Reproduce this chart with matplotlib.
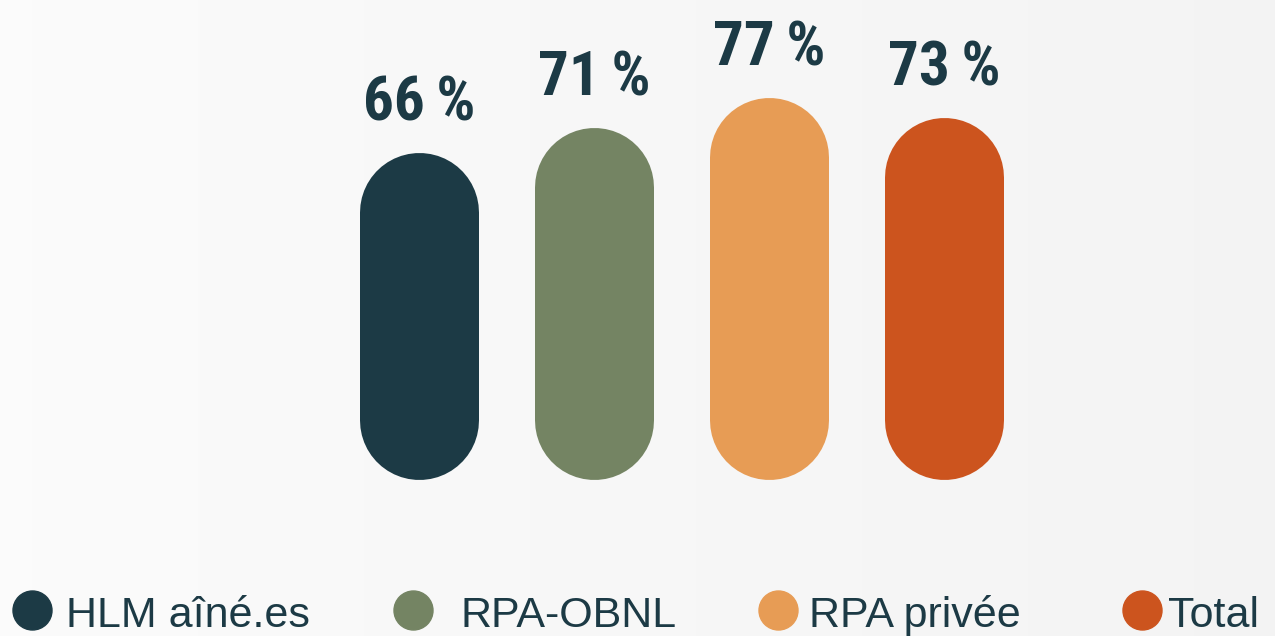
import matplotlib
matplotlib.use("Agg")
import matplotlib.pyplot as plt
import numpy as np
from matplotlib import font_manager as fm

categories = ["HLM aîné.es", "RPA-OBNL", "RPA privée", "Total"]
values = [66, 71, 77, 73]
labels = ["66\u2009%", "71\u2009%", "77\u2009%", "73\u2009%"]
colors = ["#1c3a45", "#748463", "#e79c55", "#cc541e"]
text_color = "#1c3a45"


def find_condensed_bold():
    best, best_score = None, -1
    for f in fm.fontManager.ttflist:
        nm = f.name.lower()
        fn = f.fname.lower()
        narrowish = ("narrow" in nm or "condensed" in nm or "narrow" in fn
                     or "condensed" in fn or str(f.stretch) in ("condensed", "semi-condensed", "extra-condensed"))
        if not narrowish:
            continue
        w = f.weight
        try:
            w = int(w)
        except Exception:
            w = 700 if "bold" in str(w).lower() else 400
        score = 0
        if w >= 600:
            score += 10
        if "liberation" in nm or "arial" in nm:
            score += 5
        if "roboto" in nm:
            score += 4
        if "italic" in fn or "oblique" in fn or f.style != "normal":
            score -= 20
        if "extra" in fn or "ultra" in fn or "semi" in fn:
            score -= 2
        if score > best_score:
            best, best_score = f, score
    return best


cf = find_condensed_bold()
if cf is not None:
    label_font = fm.FontProperties(fname=cf.fname, size=44)
else:
    label_font = fm.FontProperties(family="DejaVu Sans", weight="bold", size=40)

W, H, DPI = 1275, 636, 100
fig = plt.figure(figsize=(W / DPI, H / DPI), dpi=DPI, facecolor="#f7f7f7")
ax = fig.add_axes([0, 0, 1, 1])
ax.axis("off")

# subtle background gradient (light left -> slightly grayer right)
grad = np.linspace(0.985, 0.955, 256).reshape(1, -1)
ax.imshow(np.dstack([grad, grad, grad]), extent=[0, 1, 0, 1], transform=ax.transAxes,
          aspect="auto", zorder=0, interpolation="bilinear")

# scales: bar spacing 175 px, 4.95 px per percent, baseline at 157 px from bottom
px_x, px_y, base = 175.0, 4.95, 157.0
x0 = 419.5
ax.set_xlim(-x0 / px_x, (W - x0) / px_x)
ax.set_ylim(-base / px_y, (H - base) / px_y)

bar_w_px = 119.0
r = (bar_w_px / 2) / px_y  # radius in data units (y)
lw_pt = bar_w_px * 72 / DPI
for i, (v, c, lab) in enumerate(zip(values, colors, labels)):
    ax.plot([i, i], [r, v - r], color=c, lw=lw_pt, solid_capstyle="round", zorder=2)
    ax.annotate(lab, (i, v), xytext=(0, 32 * 72 / DPI), textcoords="offset points",
                ha="center", va="baseline", fontproperties=label_font,
                color=text_color, zorder=3)

# legend
leg_circle_x = [32, 413, 778, 1142]
leg_text_x = [66, 460, 809, 1168]
leg_y = 610
for cx, tx, c, name in zip(leg_circle_x, leg_text_x, colors, categories):
    ax.plot([cx / W], [1 - leg_y / H], marker="o", ms=39 * 72 / DPI, color=c,
            mec=c, transform=ax.transAxes, clip_on=False, zorder=3)
    ax.text(tx / W, 1 - 627 / H, name, transform=ax.transAxes, ha="left",
            va="baseline", fontsize=31, family=["Liberation Sans", "DejaVu Sans"],
            color=text_color, zorder=3)

ax.set_xlim(-x0 / px_x, (W - x0) / px_x)
ax.set_ylim(-base / px_y, (H - base) / px_y)
fig.savefig("out.png", dpi=DPI, facecolor=fig.get_facecolor())
